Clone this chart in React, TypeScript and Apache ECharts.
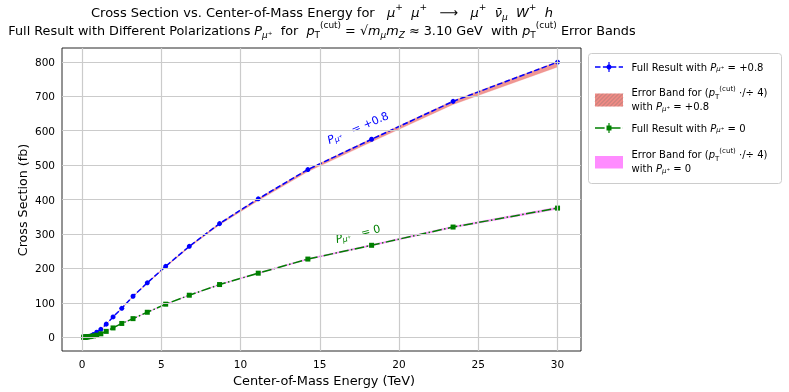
import React, { useEffect, useRef } from "react";
import * as echarts from "echarts";

const energy = [0.1, 0.128, 0.164, 0.21, 0.27, 0.345, 0.443, 0.567, 0.727, 0.93, 1.19, 1.53, 1.96, 2.51, 3.22, 4.12, 5.28, 6.77, 8.68, 11.12, 14.25, 18.27, 23.41, 30];
const xsecPol08 = [0.05, 0.1, 0.2, 0.4, 0.7, 1.2, 2.2, 4, 8, 14.5, 23, 38, 59, 84, 119, 158, 206, 264, 330, 402, 487, 575, 685, 799];
const xsecPol0 = [0.05, 0.1, 0.2, 0.35, 0.6, 1.0, 1.5, 2.4, 4, 6, 10, 17, 27, 40, 54, 72.5, 96, 122, 153, 186, 227, 267, 320, 375];
const bandPol08Low = [0.05, 0.1, 0.2, 0.39, 0.69, 1.18, 2.17, 3.95, 7.92, 14.35, 22.8, 37.6, 58.4, 83.2, 117.8, 156.3, 203.8, 261, 326.5, 397, 481, 567.5, 676, 785];
const bandPol08High = [0.05, 0.1, 0.2, 0.4, 0.7, 1.2, 2.2, 4.0, 8.0, 14.55, 23.05, 38.1, 59.2, 84.2, 119.3, 158.4, 206.6, 264.8, 331, 403, 488.4, 576.6, 687, 800];
const bandPol0Low = [0.05, 0.1, 0.2, 0.35, 0.6, 0.99, 1.49, 2.38, 3.97, 5.95, 9.93, 16.9, 26.8, 39.7, 53.6, 72, 95.3, 121.1, 151.8, 184.6, 225.3, 265, 317.6, 372];
const bandPol0High = [0.05, 0.1, 0.2, 0.35, 0.6, 1.01, 1.51, 2.42, 4.03, 6.05, 10.07, 17.1, 27.2, 40.3, 54.4, 73, 96.7, 122.9, 154.2, 187.4, 228.7, 269, 322.4, 378];
const xTicks = [0, 5, 10, 15, 20, 25, 30];
const yTicks = [0, 100, 200, 300, 400, 500, 600, 700, 800];

const F = "DejaVu Sans";

function richSet(size: number, color: string) {
  const s = size * 0.7;
  return {
    it: { fontSize: size, fontFamily: F, fontStyle: "italic", fill: color },
    r: { fontSize: size, fontFamily: F, fill: color },
    sub: { fontSize: s, fontFamily: F, fontStyle: "italic", fill: color, verticalAlign: "bottom", lineHeight: size * 1.1 },
    subr: { fontSize: s, fontFamily: F, fill: color, verticalAlign: "bottom", lineHeight: size * 1.1 },
    sup: { fontSize: s, fontFamily: F, fill: color, verticalAlign: "top", lineHeight: size * 1.5 },
  };
}

function rtext(x: number, y: number, text: string, size: number, color: string, align = "left", rotation = 0) {
  return {
    type: "text",
    x,
    y,
    rotation,
    silent: true,
    style: {
      text,
      fontSize: size,
      fontFamily: F,
      fill: color,
      align,
      verticalAlign: "middle",
      rich: richSet(size, color),
    },
  };
}

function hatchLines(x0: number, y0: number, w: number, h: number) {
  const out: any[] = [];
  const step = 4;
  for (let c = -h; c < w; c += step) {
    let xa = c, ya = h, xb = c + h, yb = 0;
    if (xa < 0) { ya = h + xa; xa = 0; }
    if (xb > w) { yb = xb - w; xb = w; }
    out.push({
      type: "line",
      silent: true,
      shape: { x1: x0 + xa, y1: y0 + ya, x2: x0 + xb, y2: y0 + yb },
      style: { stroke: "rgba(110,110,110,0.55)", lineWidth: 0.8 },
    });
  }
  return out;
}

export default function App() {
  const ref = useRef<HTMLDivElement>(null);
  useEffect(() => {
    const chart = echarts.init(ref.current!, null, { renderer: "svg" });
    const bandSeries = (hi: number[], lo: number[], fill: string) => ({
      type: "custom",
      z: 2,
      silent: true,
      data: energy.map((x, i) => [x, hi[i], lo[i]]),
      encode: { x: 0, y: [1, 2] },
      renderItem: (params: any, api: any) => {
        if (params.dataIndex !== 0) return null;
        const pts: number[][] = [];
        for (let i = 0; i < energy.length; i++) pts.push(api.coord([energy[i], hi[i]]));
        for (let i = energy.length - 1; i >= 0; i--) pts.push(api.coord([energy[i], lo[i]]));
        return { type: "polygon", shape: { points: pts }, style: { fill, stroke: fill, lineWidth: 0.4 } };
      },
    });

    const legendX = 595;
    const graphics: any[] = [
      rtext(322, 12, "Cross Section vs. Center-of-Mass Energy for   {it|μ}{sup|+}  {it|μ}{sup|+}   ⟶   {it|μ}{sup|+}  {it|ν̄}{sub|μ}  {it|W}{sup|+}  {it|h}", 13, "#000", "center"),
      rtext(322, 30, "Full Result with Different Polarizations {it|P}{sub|μ⁺}  for  {it|p}{subr|T}{sup|(cut)} = √{it|m}{sub|μ}{it|m}{sub|Z} ≈ 3.10 GeV  with {it|p}{subr|T}{sup|(cut)} Error Bands", 12.8, "#000", "center"),
      {
        type: "text", x: 22, y: 200, rotation: Math.PI / 2, silent: true,
        style: { text: "Cross Section (fb)", fontSize: 12.7, fontFamily: F, fill: "#000", align: "center", verticalAlign: "middle" },
      },
      {
        type: "text", x: 324, y: 380, silent: true,
        style: { text: "Center-of-Mass Energy (TeV)", fontSize: 12.9, fontFamily: F, fill: "#000", align: "center", verticalAlign: "middle" },
      },
      rtext(358, 128, "{it|P}{sub|μ⁺}   = +0.8", 11, "#0000ff", "center", (23 * Math.PI) / 180),
      rtext(358, 234, "{it|P}{sub|μ⁺}   = 0", 11, "#008000", "center", (14 * Math.PI) / 180),
      {
        type: "rect", silent: true,
        shape: { x: 588.5, y: 53.5, width: 193, height: 130, r: 3 },
        style: { fill: "rgba(255,255,255,0.85)", stroke: "#cccccc", lineWidth: 1 },
      },
      { type: "line", silent: true, shape: { x1: legendX, y1: 67, x2: legendX + 28, y2: 67 }, style: { stroke: "#0000ff", lineWidth: 1.5, lineDash: [5.5, 2.4] } },
      { type: "line", silent: true, shape: { x1: legendX + 14, y1: 62, x2: legendX + 14, y2: 72 }, style: { stroke: "#0000ff", lineWidth: 1.2 } },
      { type: "circle", silent: true, shape: { cx: legendX + 14, cy: 67, r: 2.5 }, style: { fill: "#0000ff" } },
      rtext(631.5, 67, "Full Result with {it|P}{sub|μ⁺} = +0.8", 10, "#000"),
      { type: "rect", silent: true, shape: { x: legendX, y: 93.5, width: 28, height: 13 }, style: { fill: "#ee8a84" } },
      ...hatchLines(legendX, 93.5, 28, 13),
      rtext(631.5, 92.5, "Error Band for ({it|p}{subr|T}{sup|(cut)} ·/÷ 4)", 10, "#000"),
      rtext(631.5, 106.5, "with {it|P}{sub|μ⁺} = +0.8", 10, "#000"),
      { type: "line", silent: true, shape: { x1: legendX, y1: 128, x2: legendX + 28, y2: 128 }, style: { stroke: "#008000", lineWidth: 1.5, lineDash: [9.6, 2.4, 1.5, 2.4] } },
      { type: "line", silent: true, shape: { x1: legendX + 14, y1: 123, x2: legendX + 14, y2: 133 }, style: { stroke: "#008000", lineWidth: 1.2 } },
      { type: "rect", silent: true, shape: { x: legendX + 11.5, y: 125.5, width: 5, height: 5 }, style: { fill: "#008000" } },
      rtext(631.5, 128, "Full Result with {it|P}{sub|μ⁺} = 0", 10, "#000"),
      { type: "rect", silent: true, shape: { x: legendX, y: 156, width: 28, height: 12.5 }, style: { fill: "#ff8cff" } },
      rtext(631.5, 154.5, "Error Band for ({it|p}{subr|T}{sup|(cut)} ·/÷ 4)", 10, "#000"),
      rtext(631.5, 168.5, "with {it|P}{sub|μ⁺} = 0", 10, "#000"),
    ];

    const axisCommon = {
      axisLine: { show: false },
      splitLine: { show: false },
      axisTick: { show: true, inside: false, length: 3.5, lineStyle: { color: "#000", width: 0.8 } },
    };

    chart.setOption({
      animation: false,
      grid: { left: 62, top: 48, width: 519, height: 303, show: true, borderColor: "#111", borderWidth: 0.9, backgroundColor: "transparent", containLabel: false },
      xAxis: {
        type: "value", min: -1.26, max: 31.48, ...axisCommon,
        axisTick: { ...axisCommon.axisTick, customValues: xTicks },
        axisLabel: { customValues: xTicks, fontSize: 10.5, fontFamily: F, color: "#000", margin: 7 },
      },
      yAxis: {
        type: "value", min: -40, max: 840, ...axisCommon,
        axisTick: { ...axisCommon.axisTick, customValues: yTicks },
        axisLabel: { customValues: yTicks, fontSize: 10.5, fontFamily: F, color: "#000", margin: 7 },
      },
      series: [
        {
          type: "line", data: [], silent: true, z: 1,
          markLine: {
            silent: true, symbol: "none", label: { show: false }, animation: false,
            lineStyle: { color: "#cbcbcb", width: 1.2, type: "solid" },
            data: [...xTicks.map((v) => ({ xAxis: v })), ...yTicks.map((v) => ({ yAxis: v }))],
          },
        },
        bandSeries(bandPol08High, bandPol08Low, "rgba(236,125,120,0.8)"),
        bandSeries(bandPol0High, bandPol0Low, "rgba(255,0,255,0.4)"),
        {
          type: "line", z: 4, silent: true,
          data: energy.map((x, i) => [x, xsecPol08[i]]),
          symbol: "circle", symbolSize: 5, showSymbol: true,
          lineStyle: { color: "#0000ff", width: 1.5, type: [5.5, 2.4] },
          itemStyle: { color: "#0000ff" },
        },
        {
          type: "line", z: 4, silent: true,
          data: energy.map((x, i) => [x, xsecPol0[i]]),
          symbol: "rect", symbolSize: 5, showSymbol: true,
          lineStyle: { color: "#008000", width: 1.5, type: [9.6, 2.4, 1.5, 2.4] },
          itemStyle: { color: "#008000" },
        },
      ],
      graphic: graphics,
    });
    return () => chart.dispose();
  }, []);
  return <div ref={ref} style={{ position: "fixed", left: 0, top: 0, width: 789, height: 392 }} />;
}
